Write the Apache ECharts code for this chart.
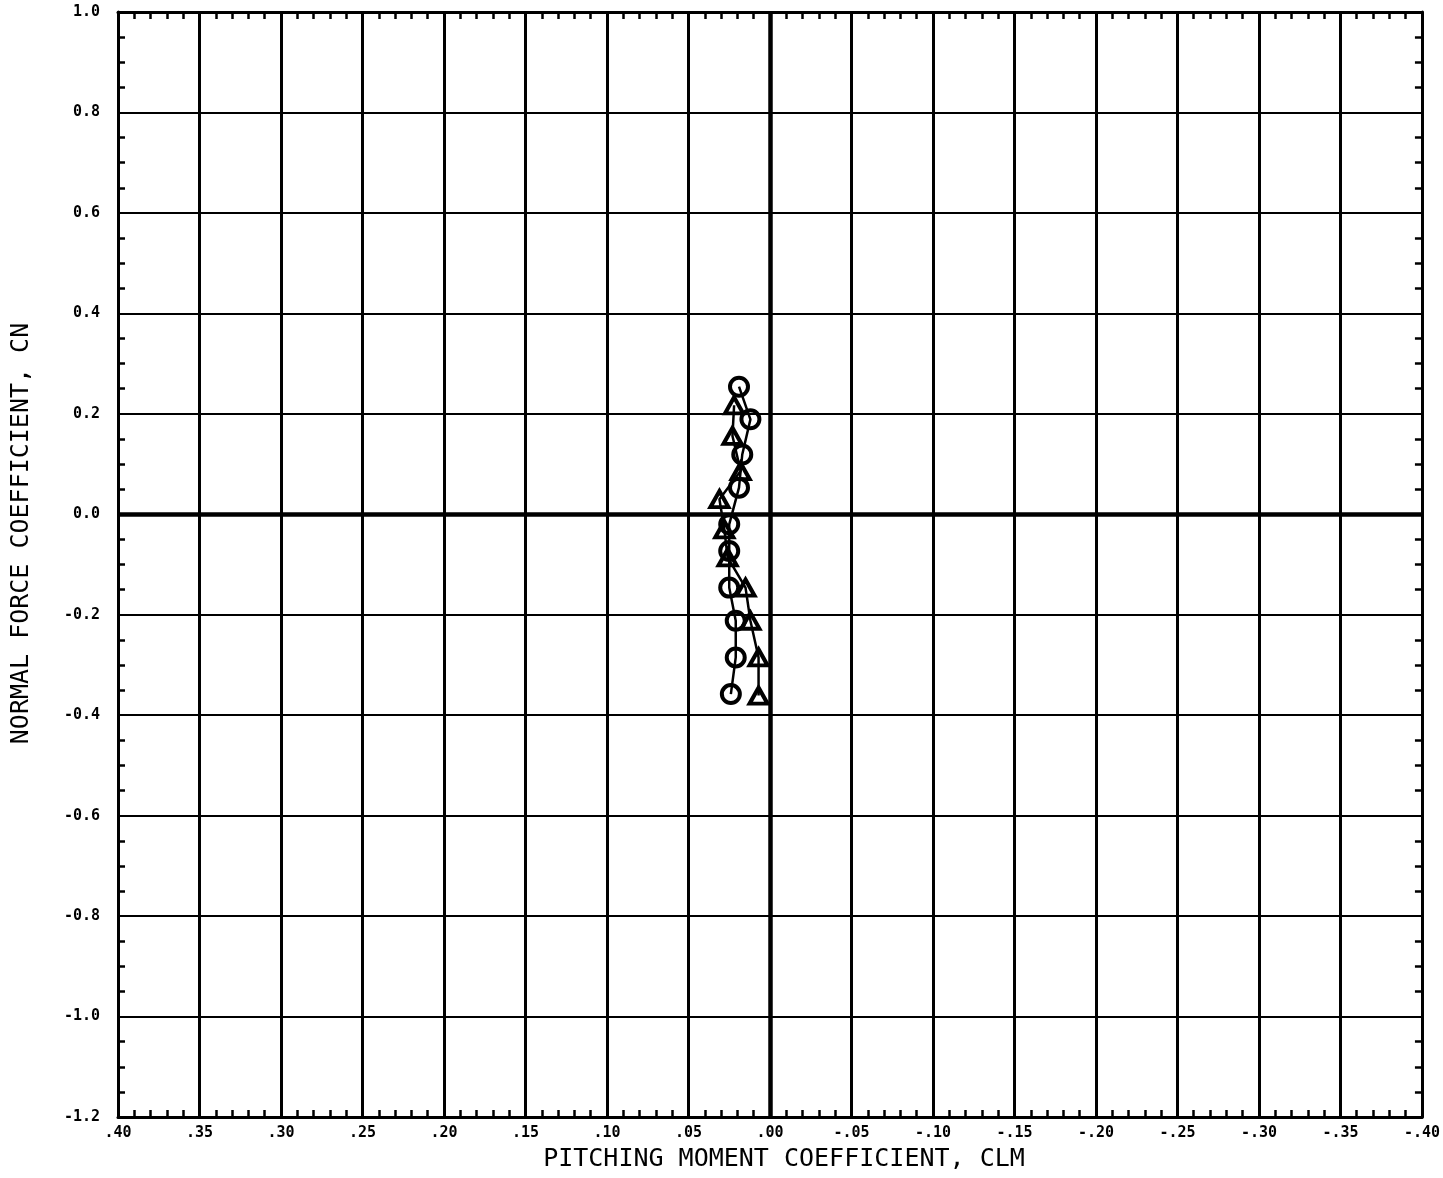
<!DOCTYPE html>
<html>
<head>
<meta charset="utf-8">
<script src="https://cdn.jsdelivr.net/npm/echarts@6/dist/echarts.min.js"></script>
<style>
html,body{margin:0;padding:0;background:#fff;}
#chart{width:1443px;height:1178px;}
</style>
</head>
<body>
<div id="chart"></div>
<script>
// Circle series (CLM, CN)
const circleX = [0.019, 0.012, 0.017, 0.019, 0.025, 0.025, 0.025, 0.021, 0.021, 0.024];
const circleY = [0.254, 0.189, 0.119, 0.053, -0.020, -0.073, -0.146, -0.212, -0.285, -0.358];
// Triangle series (CLM, CN)
const triX = [0.022, 0.023, 0.018, 0.031, 0.028, 0.026, 0.015, 0.012, 0.007, 0.007];
const triY = [0.217, 0.156, 0.086, 0.030, -0.030, -0.086, -0.146, -0.212, -0.285, -0.361];
// Axis settings
const xMin = -0.40, xMax = 0.40, xStep = 0.05;
const yMin = -1.2, yMax = 1.0, yStep = 0.2;
const xTitle = 'PITCHING MOMENT COEFFICIENT, CLM';
const yTitle = 'NORMAL FORCE COEFFICIENT, CN';

function xFmt(v) {
  const s = Math.abs(v).toFixed(2).replace(/^0/, '');
  return (v < -1e-9 ? '-' : '') + s;
}
function yFmt(v) {
  const r = Math.round(v * 10) / 10;
  return (Math.abs(r) < 1e-9 ? 0 : r).toFixed(1);
}
const pair = (xs, ys) => xs.map((x, i) => [x, ys[i]]);

const labelFont = { fontFamily: 'DejaVu Sans Mono', fontWeight: 'bold', fontSize: 15, color: '#000' };
const titleFont = { fontFamily: 'DejaVu Sans Mono', fontSize: 25, color: '#000' };

function xAxisCfg(pos, showLabels) {
  return {
    type: 'value', position: pos, min: xMin, max: xMax, interval: xStep, inverse: true,
    axisLine: { show: true, onZero: false, lineStyle: { color: '#000', width: 3 } },
    axisTick: { show: false, inside: true },
    minorTick: { show: true, splitNumber: 5, length: 7, lineStyle: { color: '#000', width: 2.5 } },
    splitLine: { show: showLabels, lineStyle: { color: '#000', width: 3 } },
    axisLabel: Object.assign({ show: showLabels, formatter: xFmt, margin: 9, showMinLabel: true, showMaxLabel: true }, labelFont),
    name: showLabels ? xTitle : '', nameLocation: 'middle', nameGap: 30,
    nameTextStyle: Object.assign({ padding: [0, 0, 0, 28] }, titleFont)
  };
}
function yAxisCfg(pos, showLabels) {
  return {
    type: 'value', position: pos, min: yMin, max: yMax, interval: yStep,
    axisLine: { show: true, onZero: false, lineStyle: { color: '#000', width: 3 } },
    axisTick: { show: false, inside: true },
    minorTick: { show: true, splitNumber: 4, length: 7, lineStyle: { color: '#000', width: 2.5 } },
    splitLine: { show: showLabels, lineStyle: { color: '#000', width: 2 } },
    axisLabel: Object.assign({ show: showLabels, formatter: yFmt, margin: 18, showMinLabel: true, showMaxLabel: true }, labelFont),
    name: showLabels ? yTitle : '', nameLocation: 'middle', nameGap: 84, nameRotate: 90,
    nameTextStyle: Object.assign({ padding: [0, 0, 0, 62] }, titleFont)
  };
}

const chart = echarts.init(document.getElementById('chart'), null, { renderer: 'canvas' });
chart.setOption({
  backgroundColor: '#fff',
  animation: false,
  grid: { left: 118, right: 18, top: 12, bottom: 61, containLabel: false },
  xAxis: [xAxisCfg('bottom', true), xAxisCfg('top', false)],
  yAxis: [yAxisCfg('left', true), yAxisCfg('right', false)],
  series: [
    {
      type: 'line', xAxisIndex: 0, yAxisIndex: 0,
      data: pair(circleX, circleY),
      symbol: 'circle', symbolSize: 18, showAllSymbol: true,
      lineStyle: { color: '#000', width: 2.5 },
      itemStyle: { color: 'rgba(255,255,255,0)', borderColor: '#000', borderWidth: 4 },
      z: 5,
      markLine: {
        silent: true, symbol: ['none', 'none'], animation: false,
        label: { show: false },
        lineStyle: { color: '#000', width: 4.5, type: 'solid' },
        data: [{ xAxis: 0 }, { yAxis: 0 }]
      }
    },
    {
      type: 'line', xAxisIndex: 0, yAxisIndex: 0,
      data: pair(triX, triY),
      symbol: 'triangle', symbolSize: [18, 16], showAllSymbol: true,
      lineStyle: { color: '#000', width: 2.5 },
      itemStyle: { color: 'rgba(255,255,255,0)', borderColor: '#000', borderWidth: 4 },
      z: 5
    }
  ]
});
</script>
</body>
</html>
